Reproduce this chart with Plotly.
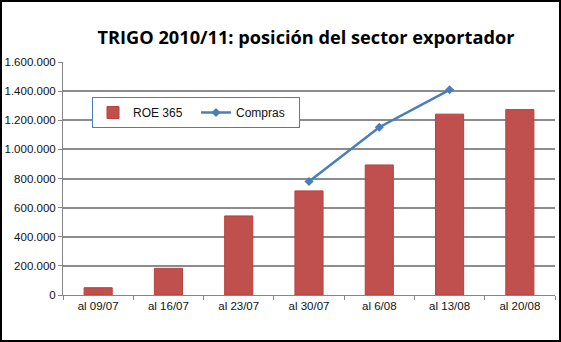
import plotly.graph_objects as go

# Weekly export-sector position, wheat 2010/11 (tonnes)
categorias = ["al 09/07", "al 16/07", "al 23/07", "al 30/07", "al 6/08", "al 13/08", "al 20/08"]
roe_365 = [50000, 183000, 543000, 715000, 893000, 1242000, 1273000]
compras = [None, None, None, 779000, 1152000, 1409000, None]
y_ticks = [0, 200000, 400000, 600000, 800000, 1000000, 1200000, 1400000, 1600000]

W, H = 561, 342
ML, MR, MT, MB = 63, 6, 62, 47
TICK_FONT = "Liberation Sans, Arial, sans-serif"

fig = go.Figure()
fig.add_trace(go.Bar(
    x=categorias, y=roe_365, name="ROE 365",
    marker=dict(color="#C0504D", line=dict(color="#B8413E", width=1)),
    width=0.4,
))
fig.add_trace(go.Scatter(
    x=categorias, y=compras, name="Compras", mode="lines+markers",
    line=dict(color="#4A7EBB", width=2.5),
    marker=dict(symbol="diamond", size=7, color="#4A7EBB"),
    connectgaps=False,
))

pw = W - ML - MR
ph = H - MT - MB

fig.update_layout(
    width=W, height=H,
    margin=dict(l=ML, r=MR, t=MT, b=MB),
    paper_bgcolor="white", plot_bgcolor="white",
    separators=",.",
    title=dict(
        text="<b>TRIGO 2010/11: posición del sector exportador</b>",
        x=306 / W, xanchor="center", y=1 - 38 / H, yanchor="middle",
        font=dict(family="Open Sans, Lato, sans-serif", size=18.2, color="#000000"),
    ),
    showlegend=True,
    legend=dict(
        orientation="h", x=(92 - ML) / pw, xanchor="left",
        y=(H - MB - 97) / ph, yanchor="top",
        bgcolor="white", bordercolor="#4A7EBB", borderwidth=1,
        font=dict(family=TICK_FONT, size=12, color="#111"),
        itemwidth=30, entrywidth=58, traceorder="normal",
    ),
    bargap=0.6,
    font=dict(family=TICK_FONT, size=11, color="#111"),
)
fig.update_xaxes(
    type="category", showline=True, linecolor="#868686", linewidth=1,
    ticks="outside", tickson="boundaries", ticklen=4, tickcolor="#868686",
    showgrid=False, tickfont=dict(size=11.5),
)
fig.update_yaxes(
    range=[0, 1600000], tickvals=y_ticks, tickformat=",d",
    showline=True, linecolor="#868686", linewidth=1,
    ticks="outside", ticklen=4, tickcolor="#868686",
    showgrid=True, gridcolor="#8C8C8C", gridwidth=1.5,
    zeroline=False, tickfont=dict(size=11.5),
)
# Black frame around the whole chart
fig.add_shape(
    type="rect", xref="paper", yref="paper",
    x0=(1 - ML) / pw, x1=(W - 1 - ML) / pw,
    y0=-(MB - 1) / ph, y1=(H - MB - 1) / ph,
    line=dict(color="#000000", width=2), fillcolor="rgba(0,0,0,0)", layer="above",
)

fig.write_html("out.html")
